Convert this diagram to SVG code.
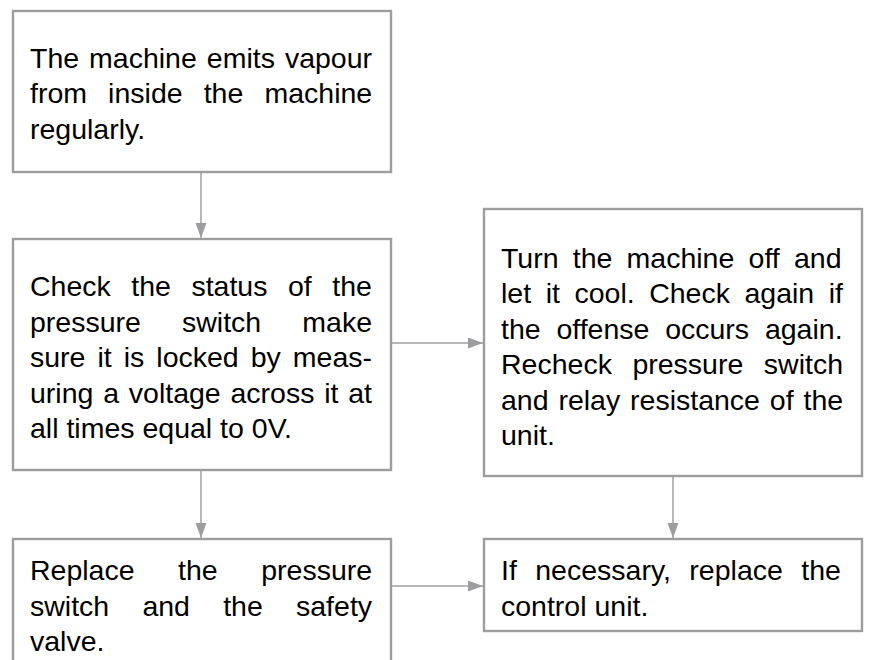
<svg xmlns="http://www.w3.org/2000/svg" width="870" height="660" viewBox="0 0 870 660">
<style>
.box{fill:#ffffff;stroke:#9d9da0;stroke-width:2.4}
.t{font-family:"Liberation Sans",Arial,Helvetica,sans-serif;font-size:28.5px;fill:#000000}
.c{fill:none;stroke:#a0a0a3;stroke-width:1.5}
</style>
<defs>
<marker id="ah" markerUnits="userSpaceOnUse" markerWidth="16" markerHeight="12" refX="15" refY="5.5" orient="auto">
<path d="M0,0 L15,5.5 L0,11 Z" fill="#9d9da0"/>
</marker>
</defs>
<rect width="870" height="660" fill="#ffffff"/>
<g id="connectors">
<line class="c" x1="201" y1="172" x2="201" y2="238" marker-end="url(#ah)"/>
<line class="c" x1="391" y1="343" x2="483" y2="343" marker-end="url(#ah)"/>
<line class="c" x1="201" y1="470" x2="201" y2="538" marker-end="url(#ah)"/>
<line class="c" x1="673" y1="476" x2="673" y2="538" marker-end="url(#ah)"/>
<line class="c" x1="391" y1="586" x2="483" y2="586" marker-end="url(#ah)"/>
</g>
<g id="node1">
<rect class="box" x="13" y="11" width="378" height="161"/>
<text class="t" x="30" y="67.5" word-spacing="2.07">The machine emits vapour</text>
<text class="t" x="30" y="103" word-spacing="13.2">from inside the machine</text>
<text class="t" x="30" y="138.5">regularly.</text>
</g>
<g id="node2">
<rect class="box" x="13" y="239" width="378" height="231"/>
<text class="t" x="30" y="296" word-spacing="12.6">Check the status of the</text>
<text class="t" x="30" y="331.5" word-spacing="33.2">pressure switch make</text>
<text class="t" x="30" y="367" word-spacing="4.1">sure it is locked by meas-</text>
<text class="t" x="30" y="402.5" word-spacing="1.87">uring a voltage across it at</text>
<text class="t" x="30" y="438">all times equal to 0V.</text>
</g>
<g id="node3">
<rect class="box" x="484" y="209" width="378" height="267"/>
<text class="t" x="501" y="267.5" word-spacing="6.3">Turn the machine off and</text>
<text class="t" x="501" y="303" word-spacing="6.62">let it cool. Check again if</text>
<text class="t" x="501" y="338.5" word-spacing="7.87">the offense occurs again.</text>
<text class="t" x="501" y="374" word-spacing="12.63">Recheck pressure switch</text>
<text class="t" x="501" y="409.5" word-spacing="1.95">and relay resistance of the</text>
<text class="t" x="501" y="445">unit.</text>
</g>
<g id="node4">
<rect class="box" x="13" y="539" width="378" height="140"/>
<text class="t" x="30" y="580" word-spacing="35.6">Replace the pressure</text>
<text class="t" x="30" y="615.5" word-spacing="25.3">switch and the safety</text>
<text class="t" x="30" y="651">valve.</text>
</g>
<g id="node5">
<rect class="box" x="484" y="539" width="378" height="92"/>
<text class="t" x="501" y="580" word-spacing="10.5">If necessary, replace the</text>
<text class="t" x="501" y="615.5">control unit.</text>
</g>
</svg>
